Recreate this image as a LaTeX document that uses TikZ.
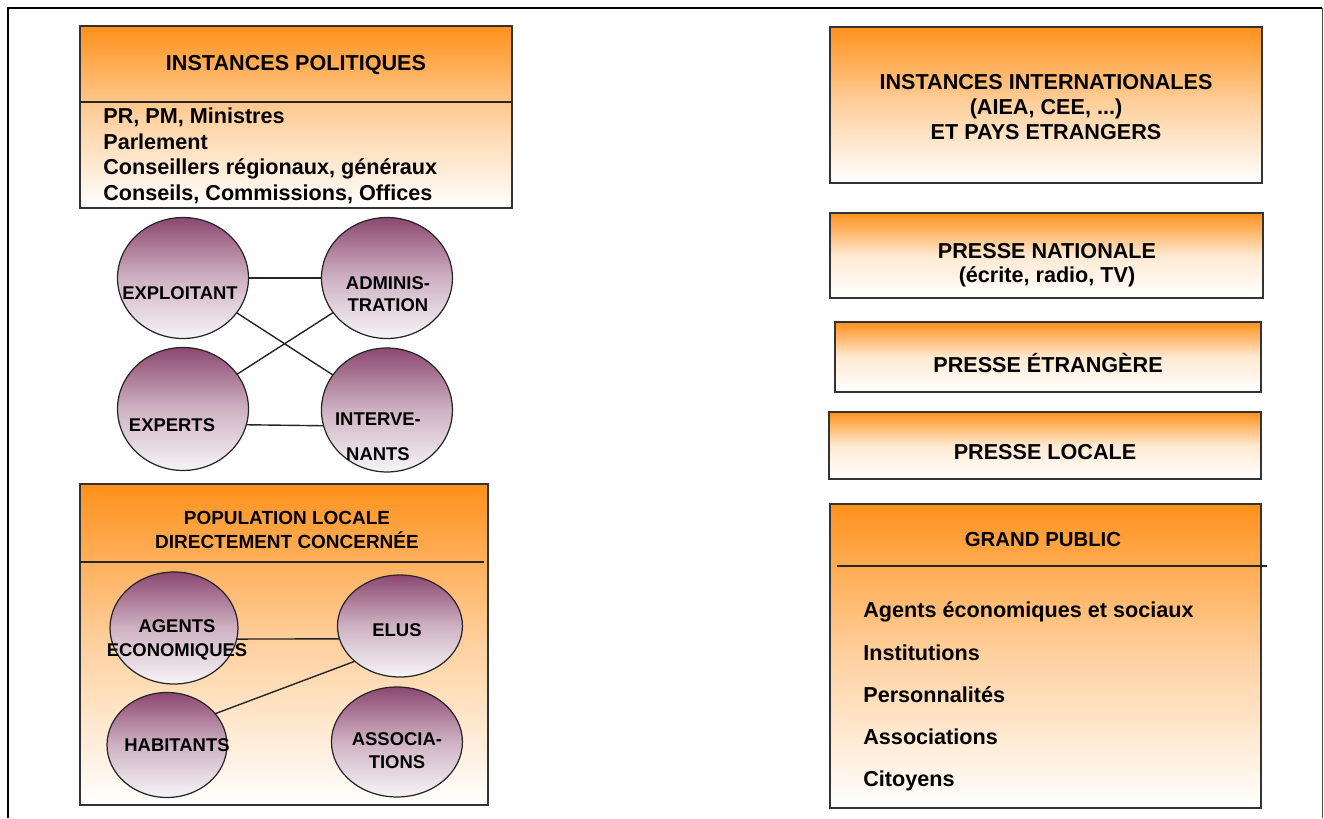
\documentclass[tikz,border=0pt]{standalone}
\usepackage{fontspec}
\setmainfont{Liberation Sans}
\usetikzlibrary{shapes.geometric, positioning}

\definecolor{boxorange}{RGB}{255,145,28}
\definecolor{circpurple}{RGB}{140,72,112}
\definecolor{circwhite}{RGB}{246,244,247}

\begin{document}
\begin{tikzpicture}[x=0.02cm, y=-0.02cm, node distance=1cm,
    box/.style={rectangle, draw=black!80, line width=0.8pt, inner sep=0pt, outer sep=0pt, top color=boxorange, bottom color=white, middle color=boxorange!42},
    pressbox/.style={box, middle color=boxorange!20},
    ellip/.style={ellipse, draw=black!85, line width=0.7pt, inner sep=0pt, outer sep=0pt, top color=circpurple, bottom color=circwhite, middle color=circpurple!42},
    title/.style={font=\bfseries\fontsize{12.3}{14.2}\selectfont, align=center, inner sep=0pt},
    body/.style={font=\bfseries\fontsize{12.3}{14.6}\selectfont, align=left, inner sep=0pt},
    circtext/.style={font=\bfseries\fontsize{10.5}{12.5}\selectfont, align=center, inner sep=0pt},
    link/.style={line width=0.8pt, black!85}
]
    \useasboundingbox (0,0) rectangle (1324,818);

    % Frame
    \draw[line width=1.1pt] (8,818) -- (8,8) -- (1322,8);
    \draw[line width=0.5pt, black!70] (1322,8) -- (1322,818);

    % Left column: boxes
    \node[box, minimum width=8.64cm, minimum height=3.64cm] (polit) at (296,117) {};
    \draw[link] (polit.west |- 0,102) -- (polit.east |- 0,102);
    \node[title] (polit-t) at (296,65) {INSTANCES POLITIQUES};
    \node[body, anchor=west] (polit-b) at (103,156) {PR, PM, Ministres\\Parlement\\Conseillers régionaux, généraux\\Conseils, Commissions, Offices};

    \node[box, minimum width=8.16cm, minimum height=6.42cm] (popul) at (284,644.5) {};
    \draw[link] (popul.west |- 0,562) -- ++(404,0);
    \node[title, font=\bfseries\fontsize{10.8}{13.6}\selectfont] (popul-t) at (287,530) {POPULATION LOCALE\\DIRECTEMENT CONCERNÉE};

    % Actors
    \node[ellip, minimum width=2.62cm, minimum height=2.42cm, label={[circtext, xshift=-0.06cm, yshift=-0.30cm]center:EXPLOITANT}] (exploit) at (183,278) {};
    \node[ellip, minimum width=2.62cm, minimum height=2.42cm, right of=exploit, xshift=3.08cm, label={[circtext, xshift=0.02cm, yshift=-0.32cm]center:{ADMINIS-\\TRATION}}] (admin) {};
    \node[ellip, minimum width=2.62cm, minimum height=2.46cm, below of=exploit, yshift=-1.62cm, label={[circtext, xshift=-0.22cm, yshift=-0.32cm]center:EXPERTS}] (experts) {};
    \node[ellip, minimum width=2.62cm, minimum height=2.48cm, below of=admin, yshift=-1.64cm, label={[circtext, font=\bfseries\fontsize{10.5}{19.8}\selectfont, xshift=-0.18cm, yshift=-0.54cm]center:{INTERVE-\\NANTS}}] (interv) {};

    \node[ellip, minimum width=2.56cm, minimum height=2.24cm, label={[circtext, font=\bfseries\fontsize{10.5}{13.6}\selectfont, xshift=0.06cm, yshift=-0.24cm]center:{AGENTS\\ECONOMIQUES}}] (agents) at (174,628) {};
    \node[ellip, minimum width=2.50cm, minimum height=2.04cm, right of=agents, xshift=3.52cm, yshift=0.04cm, label={[circtext, xshift=-0.06cm, yshift=-0.08cm]center:ELUS}] (elus) {};
    \node[ellip, minimum width=2.40cm, minimum height=2.10cm, below of=agents, xshift=-0.14cm, yshift=-1.34cm, label={[circtext, xshift=0.2cm]center:HABITANTS}] (habit) {};
    \node[ellip, minimum width=2.62cm, minimum height=2.20cm, below of=elus, xshift=-0.06cm, yshift=-1.32cm, label={[circtext, font=\bfseries\fontsize{10.5}{13}\selectfont, yshift=-0.18cm]center:{ASSOCIA-\\TIONS}}] (assoc) {};

    % Links
    \draw[link] (exploit) -- (admin);
    \draw[link] (exploit) -- (interv);
    \draw[link] (experts) -- (admin);
    \draw[link] (experts.-14) -- (interv.194);
    \draw[link] (agents.-10) -- (elus.192);
    \draw[link] (habit.33) -- (elus.218);

    % Right column
    \node[box, minimum width=8.64cm, minimum height=3.12cm] (inter) at (1046,105) {};
    \node[title] (inter-t) at (1046,107) {INSTANCES INTERNATIONALES\\(AIEA, CEE, ...)\\ET PAYS ETRANGERS};

    \node[pressbox, minimum width=8.66cm, minimum height=1.70cm, below of=inter, xshift=0.01cm, yshift=-2.01cm] (natio) {};
    \node[title, font=\bfseries\fontsize{12.3}{13.6}\selectfont] (natio-t) at (1047,265) {PRESSE NATIONALE\\(écrite, radio, TV)};

    \node[pressbox, minimum width=8.52cm, minimum height=1.40cm, below of=natio, xshift=0.03cm, yshift=-1.03cm] (etrang) {};
    \node[title] (etrang-t) at (1048,363) {PRESSE ÉTRANGÈRE};

    \node[pressbox, minimum width=8.64cm, minimum height=1.34cm, below of=etrang, xshift=-0.06cm, yshift=-0.77cm] (locale) {};
    \node[title] (locale-t) at (1045,452) {PRESSE LOCALE};

    \node[box, minimum width=8.62cm, minimum height=6.08cm, below of=locale, xshift=0.01cm, yshift=-3.21cm] (public) {};
    \draw[link] (public.west |- 0,566) ++(7,0) -- ++(430,0);
    \node[title, font=\bfseries\fontsize{11.6}{14}\selectfont] (public-t) at (1043,539) {GRAND PUBLIC};
    \node[body, font=\bfseries\fontsize{12.3}{24}\selectfont, anchor=west] (public-b) at (863,696.5) {Agents économiques et sociaux\\Institutions\\Personnalités\\Associations\\Citoyens};
\end{tikzpicture}
\end{document}
